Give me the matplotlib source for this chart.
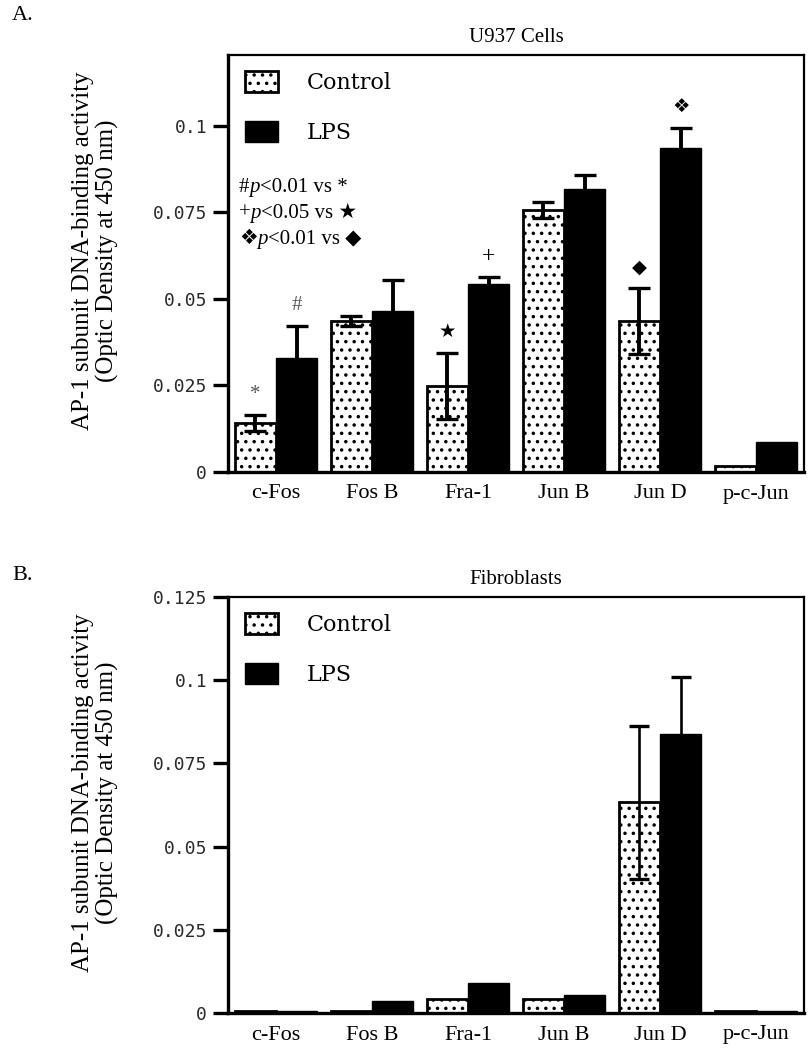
import numpy as np
import matplotlib
matplotlib.use("Agg")
import matplotlib.pyplot as plt

# ---------------- data ----------------
categories = ["c-Fos", "Fos B", "Fra-1", "Jun B", "Jun D", "p-c-Jun"]
series_names = ["Control", "LPS"]

u937_control = [0.0142, 0.0436, 0.0249, 0.0757, 0.0436, 0.0017]
u937_control_err = [0.0023, 0.0015, 0.0095, 0.0023, 0.0096, 0.0]
u937_lps = [0.0330, 0.0465, 0.0543, 0.0818, 0.0936, 0.0087]
u937_lps_err = [0.0092, 0.0090, 0.0021, 0.0040, 0.0058, 0.0]

fib_control = [0.0005, 0.0005, 0.0042, 0.0042, 0.0633, 0.0005]
fib_control_err = [0.0, 0.0, 0.0, 0.0, 0.0230, 0.0]
fib_lps = [0.0005, 0.0036, 0.0090, 0.0054, 0.0837, 0.0005]
fib_lps_err = [0.0, 0.0, 0.0, 0.0, 0.0174, 0.0]

a_yticks = [0, 0.025, 0.05, 0.075, 0.1]
a_yticklabels = ["0", "0.025", "0.05", "0.075", "0.1"]
b_yticks = [0, 0.025, 0.05, 0.075, 0.1, 0.125]
b_yticklabels = ["0", "0.025", "0.05", "0.075", "0.1", "0.125"]

# significance markers: (series index, category index, symbol)
a_marks = [(0, 0, "*"), (1, 0, "#"), (0, 2, "★"), (1, 2, "+"), (0, 4, "◆"), (1, 4, "❖")]
a_notes = [("#", "p", "<0.01 vs *"), ("+", "p", "<0.05 vs ★"), ("❖", "p", "<0.01 vs ◆")]

# ---------------- style ----------------
plt.rcParams["hatch.linewidth"] = 1.3
SERIF = ["Liberation Serif", "DejaVu Sans"]
W, H = 809, 1050
fig = plt.figure(figsize=(W / 100, H / 100), dpi=100)

def px_axes(left, right, top, bottom):
    return fig.add_axes([left / W, 1 - bottom / H, (right - left) / W, (bottom - top) / H])

ax_a = px_axes(228, 804, 55, 472)
ax_b = px_axes(228, 804, 597, 1013)

bw = 0.43


def draw_panel(ax, ctrl, ctrl_err, lps, lps_err, ylim, yticks, yticklabels, title,
               elw, capsize):
    x = np.arange(len(categories))
    bc = ax.bar(x - bw / 2, ctrl, bw, facecolor="white", edgecolor="black",
                linewidth=2.0, hatch="..", zorder=2, label=series_names[0])
    bl = ax.bar(x + bw / 2, lps, bw, facecolor="black", edgecolor="black",
                linewidth=1.0, zorder=2, label=series_names[1])
    for xs, vals, errs in ((x - bw / 2, ctrl, ctrl_err), (x + bw / 2, lps, lps_err)):
        idx = [i for i, e in enumerate(errs) if e > 0]
        ax.errorbar([xs[i] for i in idx], [vals[i] for i in idx],
                    yerr=[errs[i] for i in idx], fmt="none", ecolor="black",
                    elinewidth=elw, capsize=capsize, capthick=2.4, zorder=3)
    ax.set_xlim(-0.5, len(categories) - 0.5)
    ax.set_ylim(*ylim)
    ax.set_yticks(yticks)
    ax.set_yticklabels(yticklabels)
    ax.set_xticks(x)
    ax.set_xticklabels(categories)
    for lbl in ax.get_xticklabels():
        lbl.set_fontfamily(SERIF)
        lbl.set_fontsize(16)
    for lbl in ax.get_yticklabels():
        lbl.set_fontfamily("DejaVu Sans Mono")
        lbl.set_fontsize(13)
        lbl.set_color("#2a2a2a")
    ax.tick_params(axis="x", length=0, pad=9)
    ax.tick_params(axis="y", direction="out", length=11, width=2.4, pad=4)
    ax.spines["left"].set_linewidth(2.4)
    ax.spines["bottom"].set_linewidth(2.4)
    ax.spines["top"].set_linewidth(1.6)
    ax.spines["right"].set_linewidth(1.6)
    ax.set_title(title, fontsize=15, family=SERIF, pad=9)
    ax.set_ylabel("AP-1 subunit DNA-binding activity\n(Optic Density at 450 nm)",
                  fontsize=18, family=SERIF, linespacing=1.1)
    ax.yaxis.set_label_coords(-0.19, 0.53)
    ax.legend(handles=[bc, bl], loc="upper left", bbox_to_anchor=(0.03, 0.962),
              frameon=False, borderpad=0, borderaxespad=0,
              handlelength=1.45, handleheight=1.1, handletextpad=1.3,
              labelspacing=1.2, prop={"family": "DejaVu Serif", "size": 16})
    return bc, bl


draw_panel(ax_a, u937_control, u937_control_err, u937_lps, u937_lps_err,
           (0, 0.1205), a_yticks, a_yticklabels, "U937 Cells", elw=2.8, capsize=8)
draw_panel(ax_b, fib_control, fib_control_err, fib_lps, fib_lps_err,
           (0, 0.125), b_yticks, b_yticklabels, "Fibroblasts", elw=1.9, capsize=7.5)

# significance markers above the U937 bars
xpos = np.arange(len(categories))
for s, c, sym in a_marks:
    vals, errs = (u937_control, u937_control_err) if s == 0 else (u937_lps, u937_lps_err)
    xx = xpos[c] - bw / 2 if s == 0 else xpos[c] + bw / 2
    yy = vals[c] + errs[c] + 0.0058
    color = "#555555" if sym in "*#" else "black"
    size = {"*": 15, "#": 15, "+": 17}.get(sym, 14)
    ax_a.text(xx, yy, sym, ha="center", va="center", fontsize=size,
              family=SERIF, color=color, zorder=4)

# statistics note block
note_y = [0.0823, 0.0748, 0.0673]
for (pre, ital, rest), yy in zip(a_notes, note_y):
    t1 = ax_a.text(0.019, yy, pre, transform=ax_a.get_yaxis_transform(),
                   ha="left", va="center", fontsize=15, family=SERIF)
    t2 = ax_a.annotate(ital, xy=(1, 0), xycoords=t1, ha="left", va="bottom",
                       fontsize=15, family=SERIF, style="italic")
    ax_a.annotate(rest, xy=(1, 0), xycoords=t2, ha="left", va="bottom",
                  fontsize=15, family=SERIF)

fig.text(12 / W, 1 - 16 / H, "A.", fontsize=16, family=SERIF, ha="left", va="center")
fig.text(12 / W, 1 - 576 / H, "B.", fontsize=16, family=SERIF, ha="left", va="center")

fig.savefig("out.png", dpi=100)
